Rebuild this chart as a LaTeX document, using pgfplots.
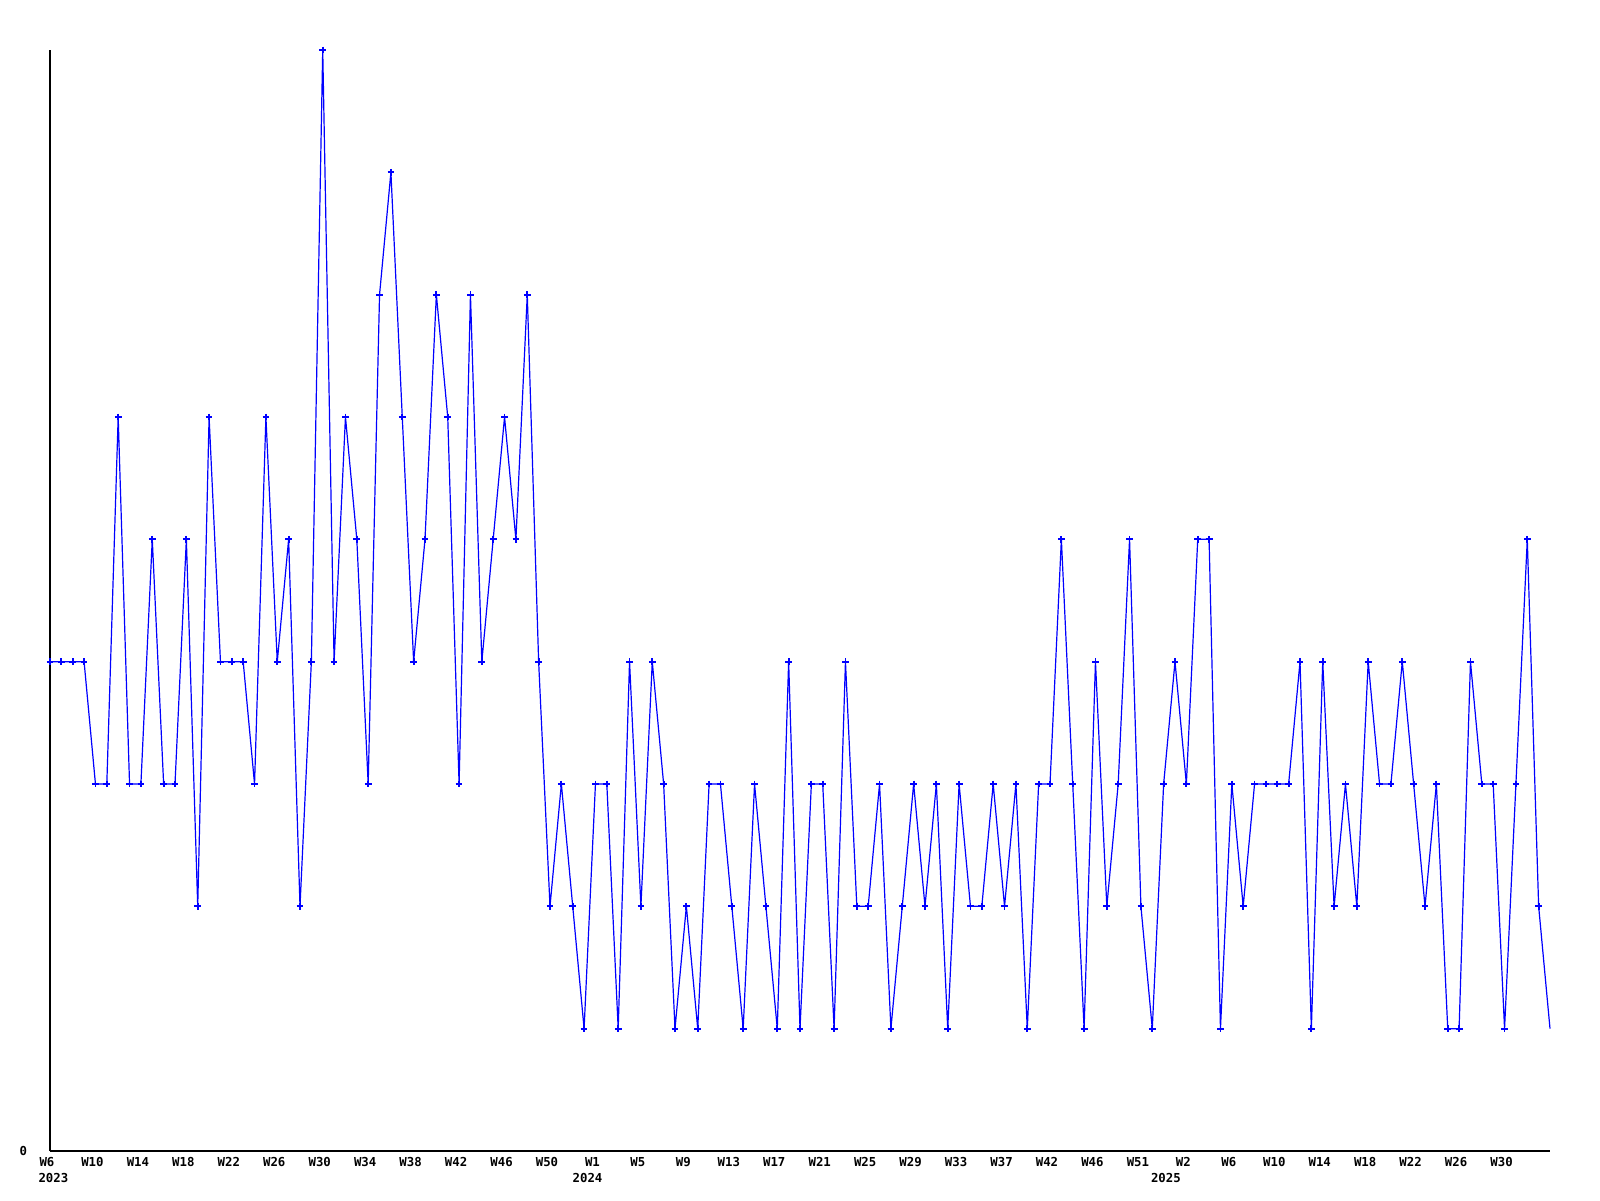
\documentclass[border=0pt]{standalone}
\usepackage{fontspec}
\setmonofont{DejaVu Sans Mono}
\usepackage{pgfplots}
\pgfplotsset{compat=1.18}
\pgfplotstableread{
x y
0 4
1 4
2 4
3 4
4 3
5 3
6 6
7 3
8 3
9 5
10 3
11 3
12 5
13 2
14 6
15 4
16 4
17 4
18 3
19 6
20 4
21 5
22 2
23 4
24 9
25 4
26 6
27 5
28 3
29 7
30 8
31 6
32 4
33 5
34 7
35 6
36 3
37 7
38 4
39 5
40 6
41 5
42 7
43 4
44 2
45 3
46 2
47 1
48 3
49 3
50 1
51 4
52 2
53 4
54 3
55 1
56 2
57 1
58 3
59 3
60 2
61 1
62 3
63 2
64 1
65 4
66 1
67 3
68 3
69 1
70 4
71 2
72 2
73 3
74 1
75 2
76 3
77 2
78 3
79 1
80 3
81 2
82 2
83 3
84 2
85 3
86 1
87 3
88 3
89 5
90 3
91 1
92 4
93 2
94 3
95 5
96 2
97 1
98 3
99 4
100 3
101 5
102 5
103 1
104 3
105 2
106 3
107 3
108 3
109 3
110 4
111 1
112 4
113 2
114 3
115 2
116 4
117 3
118 3
119 4
120 3
121 2
122 3
123 1
124 1
125 4
126 3
127 3
128 1
129 3
130 5
131 2
}\datamain
\pgfplotstableread{
x y
131 2
132 1
}\datatail
\begin{document}
\begin{tikzpicture}
\path[use as bounding box] (-25bp,-25bp) rectangle (775bp,575.5bp);
\begin{axis}[
  at={(0,0)}, anchor=south west,
  scale only axis, width=750bp, height=550.5bp,
  xmin=0, xmax=132, ymin=0, ymax=9,
  axis x line=bottom, axis y line=left,
  axis line style={-, black, line width=0.6bp},
  clip=false,
  major tick length=0pt,
  xtick={0,4,...,128},
  xticklabels={W6,W10,W14,W18,W22,W26,W30,W34,W38,W42,W46,W50,W1,W5,W9,W13,W17,W21,W25,W29,W33,W37,W42,W46,W51,W2,W6,W10,W14,W18,W22,W26,W30},
  ytick={0}, yticklabels={0},
  ticklabel style={font=\ttfamily\bfseries\fontsize{6.2}{7}\selectfont},
  xticklabel style={yshift=0.5bp, xshift=-1.5bp},
  yticklabel style={xshift=-8bp},
]
\addplot[color={rgb,255:red,0;green,0;blue,255}, line width=0.6bp, mark=+, mark size=1.7bp, mark options={line width=0.9bp}] table {\datamain};
\addplot[color={rgb,255:red,0;green,0;blue,255}, line width=0.6bp, no marks] table {\datatail};
\node[font=\ttfamily\bfseries\fontsize{6.2}{7}\selectfont, anchor=center] at (axis cs:0.3,0) [yshift=-13.3bp] {2023};
\node[font=\ttfamily\bfseries\fontsize{6.2}{7}\selectfont, anchor=center] at (axis cs:47.3,0) [yshift=-13.3bp] {2024};
\node[font=\ttfamily\bfseries\fontsize{6.2}{7}\selectfont, anchor=center] at (axis cs:98.2,0) [yshift=-13.3bp] {2025};
\end{axis}
\end{tikzpicture}
\end{document}
